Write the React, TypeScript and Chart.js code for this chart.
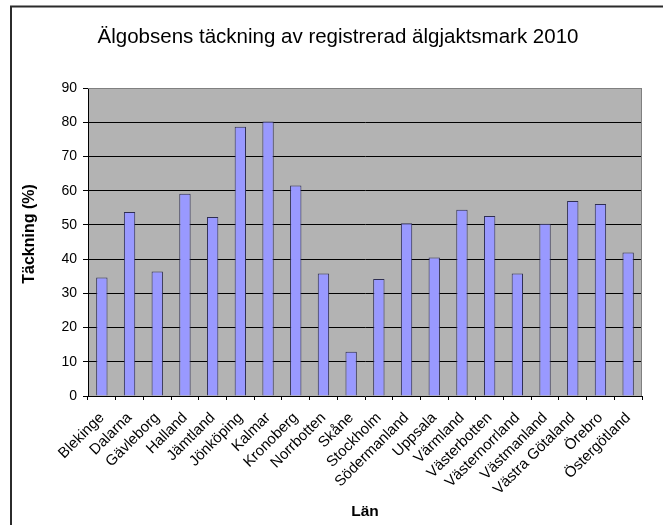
import React, { useEffect, useRef } from "react";
import { Chart, registerables } from "chart.js";

Chart.register(...registerables);

const categories = [
  "Blekinge", "Dalarna", "Gävleborg", "Halland", "Jämtland", "Jönköping", "Kalmar",
  "Kronoberg", "Norrbotten", "Skåne", "Stockholm", "Södermanland", "Uppsala", "Värmland",
  "Västerbotten", "Västernorrland", "Västmanland", "Västra Götaland", "Örebro", "Östergötland",
];
const coverage = [
  34.6, 53.8, 36.4, 59.1, 52.3, 78.7, 80.2, 61.5, 35.8, 12.9,
  34.2, 50.5, 40.5, 54.4, 52.6, 35.8, 50.3, 57.0, 56.1, 41.9,
];
const yTicks = [0, 10, 20, 30, 40, 50, 60, 70, 80, 90];
const titleText = "Älgobsens täckning av registrerad älgjaktsmark 2010";
const xTitle = "Län";
const yTitle = "Täckning (%)";

const FONT = "'Liberation Sans', Arial, sans-serif";

const decorPlugin = {
  id: "decor",
  beforeDraw(chart: any) {
    const { ctx, chartArea, width, height } = chart;
    ctx.save();
    ctx.fillStyle = "#ffffff";
    ctx.fillRect(0, 0, width, height);
    // outer frame (top and left visible)
    ctx.strokeStyle = "#2b2b2b";
    ctx.lineWidth = 2;
    ctx.beginPath();
    ctx.moveTo(11, height + 2);
    ctx.lineTo(11, 6.5);
    ctx.lineTo(width + 2, 6.5);
    ctx.stroke();
    // plot background
    ctx.fillStyle = "#b3b3b3";
    ctx.fillRect(chartArea.left, chartArea.top, chartArea.right - chartArea.left, chartArea.bottom - chartArea.top);
    // title
    ctx.fillStyle = "#000000";
    ctx.font = `20.5px ${FONT}`;
    ctx.textAlign = "center";
    ctx.textBaseline = "alphabetic";
    ctx.fillText(titleText, 338, 42.5);
    // y axis title
    ctx.translate(30, 234);
    ctx.rotate(-Math.PI / 2);
    ctx.font = `bold 16px ${FONT}`;
    ctx.textBaseline = "middle";
    ctx.fillText(yTitle, 0, 0);
    ctx.restore();
  },
  beforeDatasetsDraw(chart: any) {
    const { ctx, chartArea } = chart;
    ctx.save();
    ctx.strokeStyle = "#808080";
    ctx.lineWidth = 1;
    ctx.beginPath();
    ctx.moveTo(chartArea.left, chartArea.top + 0.5);
    ctx.lineTo(chartArea.right - 0.5, chartArea.top + 0.5);
    ctx.lineTo(chartArea.right - 0.5, chartArea.bottom);
    ctx.stroke();
    ctx.restore();
  },
};

export default function App() {
  const ref = useRef<HTMLCanvasElement | null>(null);
  useEffect(() => {
    if (!ref.current) return;
    const chart = new Chart(ref.current, {
      type: "bar",
      data: {
        labels: categories,
        datasets: [
          {
            data: coverage,
            backgroundColor: "#9999ff",
            borderColor: "#2e2e52",
            borderWidth: 1,
            barPercentage: 0.41,
            categoryPercentage: 1,
          },
        ],
      },
      options: {
        responsive: false,
        animation: false,
        layout: { padding: { left: 12, right: 21, top: 88, bottom: 0 } },
        plugins: {
          legend: { display: false },
          title: { display: false },
          tooltip: { enabled: false },
        },
        scales: {
          x: {
            type: "category",
            afterFit: (s: any) => {
              s.height = 129;
            },
            grid: {
              offset: true,
              drawOnChartArea: false,
              drawTicks: true,
              tickLength: 4,
              color: "#000000",
            },
            border: { display: true, color: "#000000", width: 1 },
            ticks: {
              color: "#000000",
              font: { family: FONT, size: 15 },
              minRotation: 45,
              maxRotation: 45,
              autoSkip: false,
              padding: 9,
            },
            title: {
              display: true,
              text: xTitle,
              color: "#000000",
              font: { family: FONT, size: 15.5, weight: "bold" },
              padding: { top: 0, bottom: 4 },
            },
          },
          y: {
            min: 0,
            max: 90,
            afterFit: (s: any) => {
              s.width = 76;
            },
            afterBuildTicks: (s: any) => {
              s.ticks = yTicks.map((v) => ({ value: v }));
            },
            grid: {
              color: (c: any) => (c.tick && c.tick.value === 90 ? "#808080" : c.tick && c.tick.value === 0 ? "rgba(0,0,0,0)" : "#000000"),
              tickColor: "#000000",
              tickLength: 5,
              lineWidth: 1,
            },
            border: { display: true, color: "#000000", width: 1 },
            ticks: {
              color: "#000000",
              font: { family: FONT, size: 14 },
              padding: 6,
            },
            title: { display: false, text: yTitle },
          },
        },
      },
      plugins: [decorPlugin],
    } as any);
    return () => chart.destroy();
  }, []);
  return (
    <div style={{ position: "absolute", left: 0, top: 0, width: 663, height: 525 }}>
      <canvas ref={ref} width={663} height={525} style={{ display: "block", width: 663, height: 525 }} />
    </div>
  );
}
